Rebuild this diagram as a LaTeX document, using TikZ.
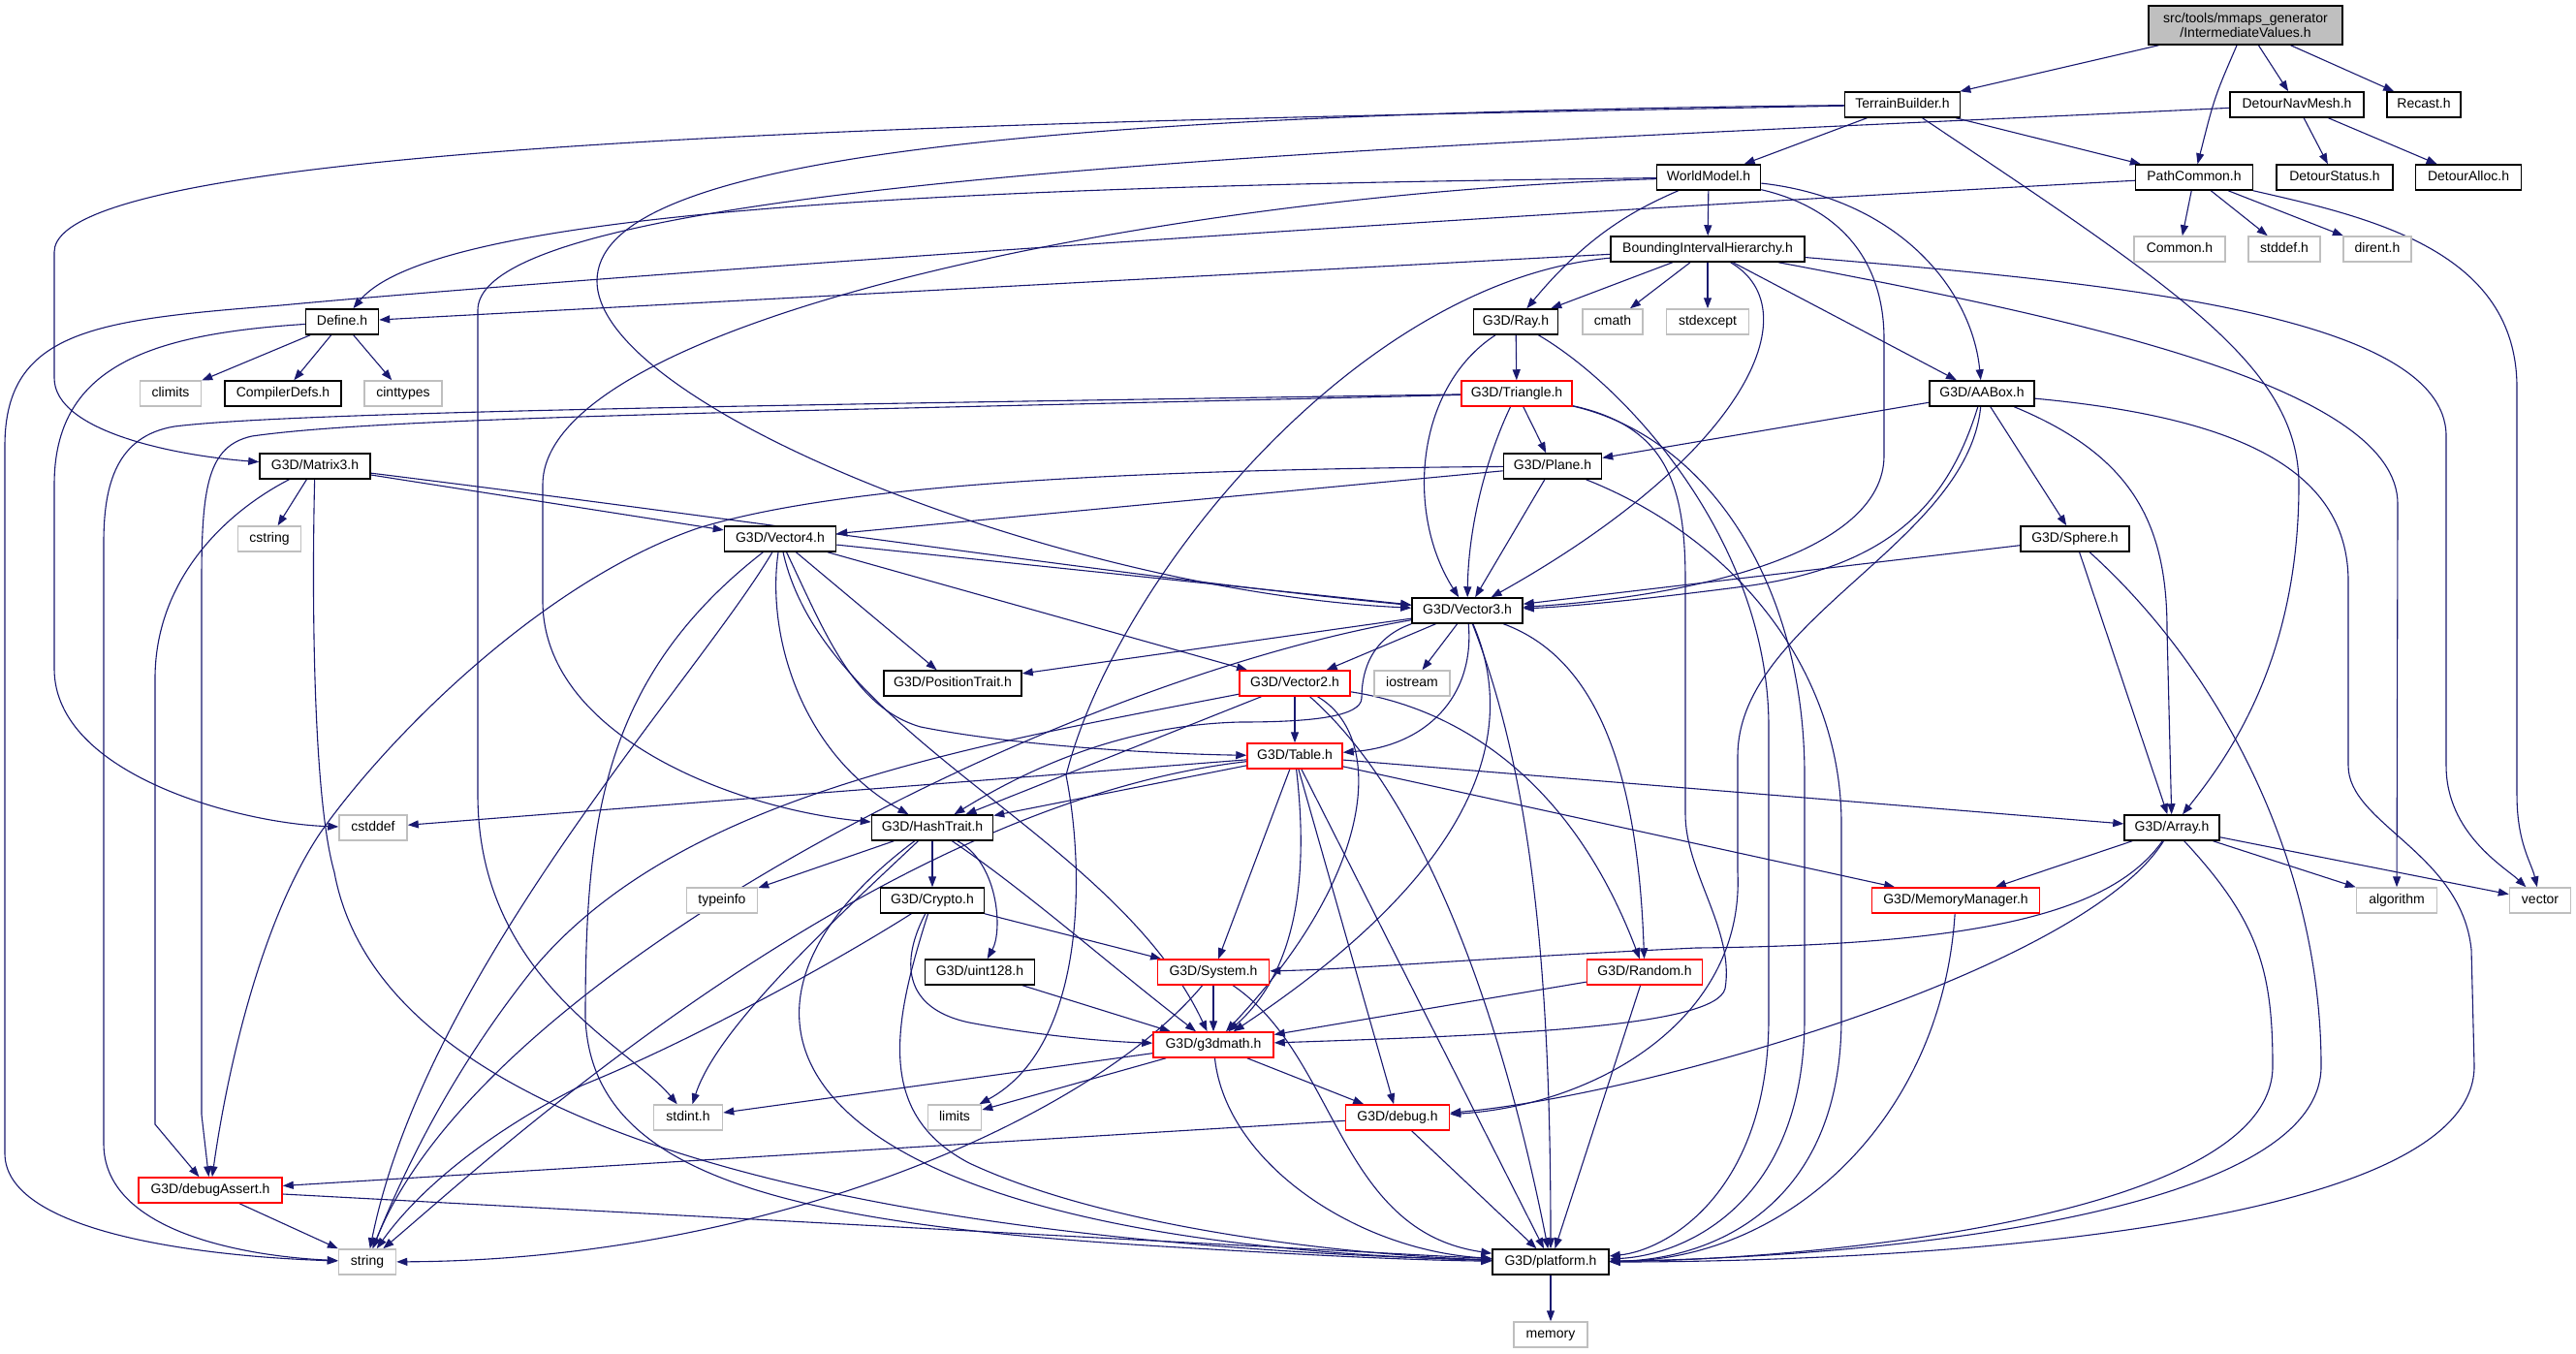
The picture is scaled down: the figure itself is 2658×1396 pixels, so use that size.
\documentclass[tikz,border=0pt]{standalone}
\usepackage{fontspec}
\setmainfont{Liberation Sans}
\usetikzlibrary{arrows.meta}
\definecolor{edgec}{HTML}{191970}
\definecolor{greyb}{HTML}{BFBFBF}
\definecolor{redb}{HTML}{FF0000}
\pgfdeclarelayer{bglayer}
\pgfdeclarelayer{edgelayer}
\pgfsetlayers{bglayer,edgelayer,main}
\begin{document}
\begin{tikzpicture}[x=0.5pt,y=-0.5pt,
  nb/.style={draw, fill=white, minimum height=13pt, inner sep=0pt, line width=0.75pt,
    font=\fontsize{7pt}{8.4pt}\selectfont, text height=5.2pt, text depth=1.5pt},
  blk/.style={nb, draw=black},
  gry/.style={nb, draw=greyb},
  rd/.style={nb, draw=redb},
  bw/.style={minimum width=#1*0.5pt},
  ed/.style={draw=edgec, line width=0.55pt, -{Triangle[length=5.5pt,width=4pt]}}
]
\useasboundingbox (0,0) rectangle (2658,1396);
\begin{pgfonlayer}{bglayer}
\fill[white] (0,0) rectangle (2658,1396);
\end{pgfonlayer}
% ---------- nodes ----------
\node[draw=black, fill=greyb, line width=0.75pt, minimum width=100pt, minimum height=20pt, inner sep=0pt,
  align=center, font=\fontsize{7pt}{7.6pt}\selectfont] (IV) at (2317,26) {src/tools/mmaps\_generator\\/IntermediateValues.h};
\node[blk,bw=119] (TB) at (1963,108) {TerrainBuilder.h};
\node[blk,bw=138] (DNM) at (2370,108) {DetourNavMesh.h};
\node[blk,bw=76] (Rec) at (2501,108) {Recast.h};
\node[blk,bw=107] (WM) at (1763,183) {WorldModel.h};
\node[blk,bw=121] (PC) at (2264,183) {PathCommon.h};
\node[blk,bw=120] (DS) at (2409,183) {DetourStatus.h};
\node[blk,bw=109] (DA) at (2547,183) {DetourAlloc.h};
\node[blk,bw=200] (BIH) at (1762,257) {BoundingIntervalHierarchy.h};
\node[gry,bw=94] (Com) at (2249,257) {Common.h};
\node[gry,bw=74] (stddef) at (2357,257) {stddef.h};
\node[gry,bw=70] (dirent) at (2453,257) {dirent.h};
\node[blk,bw=75] (Def) at (353,332) {Define.h};
\node[blk,bw=87] (Ray) at (1564,332) {G3D/Ray.h};
\node[gry,bw=62] (cmath) at (1664,332) {cmath};
\node[gry,bw=85] (stdexcept) at (1762,332) {stdexcept};
\node[gry,bw=63] (climits) at (176,406) {climits};
\node[blk,bw=120] (CD) at (292,406) {CompilerDefs.h};
\node[gry,bw=80] (cinttypes) at (416,406) {cinttypes};
\node[rd,bw=114] (Tri) at (1565,406) {G3D/Triangle.h};
\node[blk,bw=108] (AAB) at (2045,406) {G3D/AABox.h};
\node[blk,bw=114] (M3) at (325,481) {G3D/Matrix3.h};
\node[blk,bw=101] (Pl) at (1602,481) {G3D/Plane.h};
\node[gry,bw=65] (cstring) at (278,556) {cstring};
\node[blk,bw=115] (V4) at (805,556) {G3D/Vector4.h};
\node[blk,bw=112] (Sph) at (2141,556) {G3D/Sphere.h};
\node[blk,bw=114] (V3) at (1514,630) {G3D/Vector3.h};
\node[blk,bw=142] (PT) at (983,705) {G3D/PositionTrait.h};
\node[rd,bw=114] (V2) at (1336,705) {G3D/Vector2.h};
\node[gry,bw=78] (ios) at (1457,705) {iostream};
\node[rd,bw=98] (Tab) at (1336,780) {G3D/Table.h};
\node[gry,bw=70] (cstddef) at (385,854) {cstddef};
\node[blk,bw=125] (HT) at (962,854) {G3D/HashTrait.h};
\node[blk,bw=98] (Arr) at (2241,854) {G3D/Array.h};
\node[gry,bw=73] (typeinfo) at (745,929) {typeinfo};
\node[blk,bw=107] (Cry) at (962,929) {G3D/Crypto.h};
\node[rd,bw=173] (MM) at (2018,929) {G3D/MemoryManager.h};
\node[gry,bw=83] (algorithm) at (2473,929) {algorithm};
\node[gry,bw=63] (vector) at (2621,929) {vector};
\node[blk,bw=113] (u128) at (1011,1003) {G3D/uint128.h};
\node[rd,bw=115] (Sys) at (1252,1003) {G3D/System.h};
\node[rd,bw=119] (Rnd) at (1697,1003) {G3D/Random.h};
\node[rd,bw=124] (g3d) at (1252,1078) {G3D/g3dmath.h};
\node[gry,bw=71] (stdint) at (710,1153) {stdint.h};
\node[gry,bw=55] (limits) at (985,1153) {limits};
\node[rd,bw=107] (dbg) at (1442,1153) {G3D/debug.h};
\node[rd,bw=148] (dA) at (217,1228) {G3D/debugAssert.h};
\node[blk,bw=120] (plat) at (1600,1302) {G3D/platform.h};
\node[gry,bw=59] (string) at (379,1302) {string};
\node[gry,bw=76] (memory) at (1600,1377) {memory};
% ---------- edges ----------
\begin{pgfonlayer}{edgelayer}
% IntermediateValues
\draw[ed] (IV) -- (TB);
\draw[ed] (IV) .. controls (2285,100) .. (PC);
\draw[ed] (IV) -- (DNM);
\draw[ed] (IV) -- (Rec);
% TerrainBuilder
\draw[ed] (TB) -- (WM);
\draw[ed] (TB) -- (PC);
\draw[ed] (TB) .. controls (2250,300) and (2372,380) .. (2372,500) .. controls (2372,680) and (2300,780) .. (Arr);
\draw[ed] (TB) .. controls (1000,118) and (616,170) .. (616,290) .. controls (616,420) and (1100,610) .. (V3);
\draw[ed] (TB) .. controls (1100,125) and (56,140) .. (56,260) -- (56,390) .. controls (56,445) and (180,470) .. (M3);
% DetourNavMesh
\draw[ed] (DNM) -- (DS);
\draw[ed] (DNM) -- (DA);
\draw[ed] (DNM) .. controls (1500,150) and (493,180) .. (493,320) -- (493,820) .. controls (493,1010) and (650,1080) .. (stdint);
% PathCommon
\draw[ed] (PC) -- (Com);
\draw[ed] (PC) -- (stddef);
\draw[ed] (PC) -- (dirent);
\draw[ed] (PC) .. controls (2450,225) and (2597,260) .. (2597,400) -- (2597,820) .. controls (2597,870) and (2612,890) .. (vector);
\draw[ed] (PC) .. controls (1300,235) and (500,295) .. (290,315) .. controls (100,330) and (5,340) .. (5,460) -- (5,1190) .. controls (5,1270) and (200,1296) .. (string);
% WorldModel
\draw[ed] (WM) -- (BIH);
\draw[ed] (WM) .. controls (1690,215) and (1640,240) .. (Ray);
\draw[ed] (WM) .. controls (1900,215) and (1944,270) .. (1944,350) -- (1944,470) .. controls (1944,570) and (1750,615) .. (V3);
\draw[ed] (WM) .. controls (1960,205) and (2035,300) .. (AAB);
\draw[ed] (WM) .. controls (1000,192) and (450,215) .. (Def);
\draw[ed] (WM) .. controls (1200,200) and (560,330) .. (560,500) -- (560,620) .. controls (560,760) and (760,835) .. (HT);
% BIH
\draw[ed] (BIH) -- (Def);
\draw[ed] (BIH) -- (Ray);
\draw[ed] (BIH) -- (cmath);
\draw[ed] (BIH) -- (stdexcept);
\draw[ed] (BIH) .. controls (1870,320) and (1800,470) .. (V3);
\draw[ed] (BIH) -- (AAB);
\draw[ed] (BIH) .. controls (2150,330) and (2474,400) .. (2474,520) -- (algorithm);
\draw[ed] (BIH) .. controls (2150,290) and (2524,320) .. (2524,450) -- (2524,790) .. controls (2524,860) and (2585,895) .. (vector);
\draw[ed] (BIH) .. controls (1400,290) and (1150,600) .. (1100,800) .. controls (1120,900) and (1120,1080) .. (limits);
% Define
\draw[ed] (Def) -- (climits);
\draw[ed] (Def) -- (CD);
\draw[ed] (Def) -- (cinttypes);
\draw[ed] (Def) .. controls (150,345) and (56,380) .. (56,500) -- (56,690) .. controls (56,800) and (250,850) .. (cstddef);
% Ray
\draw[ed] (Ray) -- (Tri);
\draw[ed] (Ray) .. controls (1460,400) and (1450,530) .. (V3);
\draw[ed] (Ray) .. controls (1680,400) and (1825,560) .. (1825,750) -- (1825,1050) .. controls (1825,1230) and (1720,1290) .. (plat);
% Triangle
\draw[ed] (Tri) -- (Pl);
\draw[ed] (Tri) .. controls (1530,480) and (1515,550) .. (V3);
\draw[ed] (Tri) .. controls (1720,440) and (1739,500) .. (1739,600) -- (1739,840) .. controls (1739,900) and (1790,960) .. (1780,1020) .. controls (1770,1060) and (1550,1068) .. (g3d);
\draw[ed] (Tri) .. controls (1760,450) and (1862,600) .. (1862,800) -- (1862,1050) .. controls (1862,1240) and (1740,1295) .. (plat);
\draw[ed] (Tri) .. controls (800,418) and (300,425) .. (180,440) .. controls (120,450) and (107,500) .. (107,560) -- (107,1180) .. controls (107,1270) and (250,1296) .. (string);
\draw[ed] (Tri) .. controls (800,425) and (400,430) .. (260,450) .. controls (215,460) and (208,500) .. (208,600) -- (208,1150) -- (dA);
% AABox
\draw[ed] (AAB) -- (Pl);
\draw[ed] (AAB) .. controls (2010,520) and (1950,585) .. (1800,605) .. controls (1700,618) and (1620,626) .. (V3);
\draw[ed] (AAB) -- (Sph);
\draw[ed] (AAB) .. controls (2200,470) and (2236,540) .. (2236,650) -- (Arr);
\draw[ed] (AAB) .. controls (2300,430) and (2423,480) .. (2423,600) -- (2423,790) .. controls (2423,850) and (2540,880) .. (2550,980) -- (2553,1100) .. controls (2553,1280) and (1900,1302) .. (plat);
\draw[ed] (AAB) .. controls (2030,560) and (1793,640) .. (1793,780) -- (1793,900) .. controls (1800,1050) and (1650,1140) .. (dbg);
% Matrix3
\draw[ed] (M3) -- (cstring);
\draw[ed] (M3) -- (V4);
\draw[ed] (M3) .. controls (800,540) and (1200,600) .. (V3);
\draw[ed] (M3) .. controls (230,530) and (160,600) .. (160,700) -- (160,1160) -- (dA);
\draw[ed] (M3) .. controls (322,600) and (322,820) .. (345,900) .. controls (400,1200) and (1000,1285) .. (plat);
% Plane
\draw[ed] (Pl) -- (V4);
\draw[ed] (Pl) -- (V3);
\draw[ed] (Pl) .. controls (1100,485) and (850,505) .. (720,545) .. controls (560,600) and (400,760) .. (330,860) .. controls (270,950) and (235,1100) .. (dA);
\draw[ed] (Pl) .. controls (1800,560) and (1900,700) .. (1900,850) -- (1900,1050) .. controls (1900,1250) and (1760,1300) .. (plat);
% Vector4
\draw[ed] (V4) -- (V3);
\draw[ed] (V4) -- (PT);
\draw[ed] (V4) -- (V2);
\draw[ed] (V4) .. controls (850,650) and (880,730) .. (950,750) .. controls (1050,770) and (1200,778) .. (Tab);
\draw[ed] (V4) .. controls (790,660) and (830,780) .. (HT);
\draw[ed] (V4) .. controls (850,760) and (1150,860) .. (g3d);
\draw[ed] (V4) .. controls (720,700) and (440,1000) .. (string);
\draw[ed] (V4) .. controls (620,700) and (604,850) .. (604,1050) .. controls (610,1210) and (800,1262) .. (1200,1286) .. controls (1350,1295) and (1450,1300) .. (plat);
% Sphere
\draw[ed] (Sph) -- (V3);
\draw[ed] (Sph) -- (Arr);
\draw[ed] (Sph) .. controls (2300,700) and (2395,900) .. (2395,1100) .. controls (2395,1260) and (1900,1298) .. (plat);
% Vector3
\draw[ed] (V3) -- (PT);
\draw[ed] (V3) -- (ios);
\draw[ed] (V3) -- (V2);
\draw[ed] (V3) .. controls (1522,720) and (1470,770) .. (Tab);
\draw[ed] (V3.south west) .. controls (1410,660) and (1405,700) .. (1405,720) .. controls (1405,740) and (1350,745) .. (1280,745) .. controls (1150,748) and (1050,800) .. (HT);
\draw[ed] (V3) .. controls (1100,700) and (500,1000) .. (string);
\draw[ed] (V3) .. controls (1570,760) and (1520,900) .. (g3d);
\draw[ed] (V3) .. controls (1650,680) and (1690,800) .. (Rnd);
\draw[ed] (V3) .. controls (1580,800) and (1600,1000) .. (plat);
% Vector2
\draw[ed] (V2) -- (Tab);
\draw[ed] (V2) -- (HT);
\draw[ed] (V2) .. controls (1430,760) and (1420,900) .. (g3d);
\draw[ed] (V2) .. controls (1500,850) and (1570,1150) .. (plat);
\draw[ed] (V2) .. controls (1500,730) and (1620,800) .. (Rnd);
\draw[ed] (V2) .. controls (1000,770) and (700,820) .. (550,1000) .. controls (470,1100) and (420,1200) .. (string);
% Table
\draw[ed] (Tab) -- (cstddef);
\draw[ed] (Tab) .. controls (900,830) and (500,1200) .. (string);
\draw[ed] (Tab) -- (HT);
\draw[ed] (Tab) -- (Arr);
\draw[ed] (Tab) -- (MM);
\draw[ed] (Tab) -- (Sys);
\draw[ed] (Tab) .. controls (1350,900) and (1340,1000) .. (g3d);
\draw[ed] (Tab) -- (dbg);
\draw[ed] (Tab) -- (plat);
% HashTrait
\draw[ed] (HT) -- (typeinfo);
\draw[ed] (HT) -- (Cry);
\draw[ed] (HT) .. controls (1030,890) and (1035,960) .. (u128);
\draw[ed] (HT) .. controls (1060,920) and (1150,1000) .. (g3d);
\draw[ed] (HT) .. controls (860,950) and (740,1060) .. (stdint);
\draw[ed] (HT) .. controls (700,1050) and (800,1280) .. (plat);
% Crypto
\draw[ed] (Cry) -- (Sys);
\draw[ed] (Cry) .. controls (930,990) and (930,1040) .. (1000,1055) .. controls (1080,1070) and (1150,1075) .. (g3d);
\draw[ed] (Cry) .. controls (920,1060) and (905,1150) .. (1000,1200) .. controls (1150,1270) and (1400,1295) .. (plat);
\draw[ed] (Cry) .. controls (850,1000) and (700,1080) .. (600,1120) .. controls (500,1170) and (430,1230) .. (string);
% uint128, System, Random, MemoryManager
\draw[ed] (u128) -- (g3d);
\draw[ed] (Sys) -- (g3d);
\draw[ed] (Sys) .. controls (1130,1150) and (800,1300) .. (string);
\draw[ed] (Sys) .. controls (1380,1090) and (1380,1270) .. (plat);
\draw[ed] (Rnd) -- (g3d);
\draw[ed] (Rnd) -- (plat);
\draw[ed] (MM) .. controls (2004,1150) and (1850,1300) .. (plat);
% Array
\draw[ed] (Arr) -- (MM);
\draw[ed] (Arr) .. controls (2180,940) and (2050,975) .. (1750,978) .. controls (1500,990) and (1400,1000) .. (Sys);
\draw[ed] (Arr) .. controls (2150,1000) and (1700,1130) .. (dbg);
\draw[ed] (Arr) .. controls (2330,950) and (2345,1000) .. (2345,1100) .. controls (2345,1260) and (1850,1300) .. (plat);
\draw[ed] (Arr) -- (algorithm);
\draw[ed] (Arr) -- (vector);
% g3dmath, debug, debugAssert, platform
\draw[ed] (g3d) -- (stdint);
\draw[ed] (g3d) -- (limits);
\draw[ed] (g3d) -- (dbg);
\draw[ed] (g3d) .. controls (1265,1200) and (1400,1290) .. (plat);
\draw[ed] (dbg) -- (dA);
\draw[ed] (dbg) -- (plat);
\draw[ed] (dA) -- (string);
\draw[ed] (dA) -- (plat);
\draw[ed] (plat) -- (memory);
\end{pgfonlayer}
\end{tikzpicture}
\end{document}
